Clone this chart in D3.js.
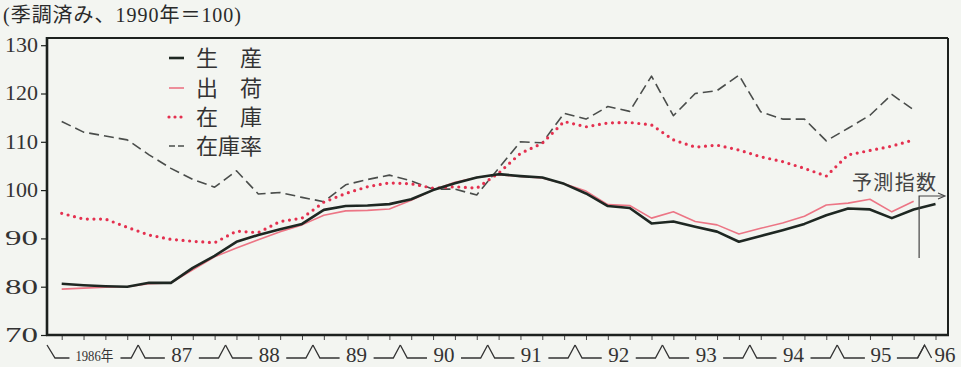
<!DOCTYPE html>
<html><head><meta charset="utf-8">
<script src="https://cdn.jsdelivr.net/npm/d3@7"></script>
<style>
html,body{margin:0;padding:0;background:#f3f5f1;}
svg{display:block;}
</style></head>
<body>
<svg id="chart" width="961" height="367"></svg>
<script>
// ---- data (quarterly, 1986Q1 .. ) ----
const yearLabels = ["1986年","87","88","89","90","91","92","93","94","95","96"];
const yTicks = [70, 80, 90, 100, 110, 120, 130];
const seriesNames = ["生　産", "出　荷", "在　庫", "在庫率"];
const production = [80.6,80.3,80.1,80.0,80.8,80.8,83.9,86.4,89.3,90.7,91.9,93.0,95.9,96.7,96.8,97.1,98.1,100.0,101.4,102.6,103.3,102.9,102.6,101.3,99.3,96.7,96.3,93.1,93.5,92.4,91.4,89.3,90.5,91.7,93.0,94.8,96.2,96.0,94.2,96.0,97.1];
const shipments = [79.5,79.7,79.9,80.0,80.6,80.8,83.5,86.2,88.0,89.7,91.4,92.8,94.8,95.7,95.8,96.1,97.9,100.0,101.6,102.6,103.2,102.8,102.5,101.3,99.8,97.0,96.8,94.2,95.5,93.5,92.8,90.9,92.1,93.2,94.6,96.9,97.3,98.1,95.5,97.7];
const inventory = [95.2,94.0,94.0,92.3,90.7,89.8,89.4,89.1,91.5,91.2,93.5,94.2,97.5,99.3,100.7,101.5,101.3,100.4,100.7,100.4,103.5,107.6,109.7,114.2,113.1,113.9,114.0,113.5,110.4,108.9,109.3,108.3,106.9,105.9,104.5,102.9,107.3,108.2,109.1,110.4];
const inventoryRatio = [114.2,112.0,111.2,110.4,107.3,104.5,102.2,100.6,104.0,99.2,99.5,98.5,97.6,101.1,102.2,103.1,101.9,100.2,100.2,99.0,104.5,110.0,109.8,115.9,114.7,117.3,116.3,123.6,115.4,120.0,120.6,123.8,116.2,114.7,114.7,110.2,112.8,115.5,119.8,116.6];
const forecastLabel = "予測指数";
const unitLabel = "(季調済み、1990年＝100)";

// ---- layout ----
const svg = d3.select("#chart");
const L = 47, R = 948, T = 38, B = 335;
const nQ = 41;
const x = d3.scaleLinear().domain([0, nQ - 1]).range([61.7, 935.5]);
const y = d3.scaleLinear().domain([70, 130]).range([B, 45.2]);
const serif = "'Liberation Serif','Noto Sans CJK JP',serif";
const cjk = "'Noto Sans CJK JP','Liberation Serif',sans-serif";
const ink = "#1c211e";

svg.append("rect").attr("width",961).attr("height",367).attr("fill","#f3f5f1");

// title
svg.append("text").attr("x",3).attr("y",22).attr("font-family",serif)
  .attr("font-size",20).attr("fill","#2a2a2a").attr("textLength",238)
  .text(unitLabel);

// frame
svg.append("line").attr("x1",L).attr("x2",R).attr("y1",T).attr("y2",T).attr("stroke",ink).attr("stroke-width",2);
svg.append("line").attr("x1",R).attr("x2",R).attr("y1",T).attr("y2",B).attr("stroke",ink).attr("stroke-width",2);

// y axis
const yAxis = d3.axisLeft(y).tickValues(yTicks).tickSize(6).tickPadding(3).tickFormat(d3.format("d"));
const gy = svg.append("g").attr("transform",`translate(${L},0)`).call(yAxis);
gy.select(".domain").remove();
gy.selectAll(".tick line").attr("stroke",ink).attr("stroke-width",1.2);
gy.selectAll(".tick text").attr("font-family",serif).attr("font-size",20).attr("fill","#333")
  .attr("textLength",33).attr("lengthAdjust","spacingAndGlyphs");
svg.append("line").attr("x1",L).attr("x2",L).attr("y1",T-1).attr("y2",B+1).attr("stroke",ink).attr("stroke-width",2.6);

// x axis ticks
const xAxis = d3.axisBottom(x).tickValues(d3.range(nQ)).tickSize(5).tickFormat("");
const gx = svg.append("g").attr("transform",`translate(0,${B})`).call(xAxis);
gx.select(".domain").remove();
gx.selectAll(".tick line").attr("stroke","#444").attr("stroke-width",1);
svg.append("line").attr("x1",L-1).attr("x2",R+1).attr("y1",B).attr("y2",B).attr("stroke",ink).attr("stroke-width",2.6);

// year brackets
const base = 358, peakY = 345, ph = 7;
const gyear = svg.append("g");
const halfW = [22, 13, 13, 13, 13, 13, 13, 13, 13, 12, 12];
yearLabels.forEach((lab, k) => {
  const cx = x(4*k + 1.5);
  const b0 = x(4*k - 0.5), b1 = x(4*k + 3.5);
  if (k === yearLabels.length - 1) {
    gyear.append("path").attr("d",`M${b0-ph},${base}L${b0},${peakY}L${b0+ph},${base}`)
      .attr("fill","none").attr("stroke","#333").attr("stroke-width",1.3);
    gyear.append("text").attr("x",b0+ph+3).attr("y",base+4).attr("font-family",serif)
      .attr("font-size",21).attr("fill","#333").text(lab);
    return;
  }
  const t = gyear.append("text").attr("x",cx).attr("y",base+ (k===0?3:4)).attr("text-anchor","middle")
    .attr("font-family",serif).attr("font-size",k===0?15:21).attr("fill","#333").text(lab);
  if (k===0) t.attr("textLength",38).attr("lengthAdjust","spacingAndGlyphs");
  const hw = halfW[k];
  let d;
  if (k === 0) d = `M${L},${peakY}L${L+8},${base}L${cx-hw-3},${base}`;
  else d = `M${b0},${peakY}L${b0+ph},${base}L${cx-hw-4},${base}`;
  d += `M${cx+hw+4},${base}L${b1-ph},${base}L${b1},${peakY}`;
  gyear.append("path").attr("d",d).attr("fill","none").attr("stroke","#333").attr("stroke-width",1.3);
});

// lines
const line = d3.line().x((d,i)=>x(i)).y(d=>y(d));
const styles = [
  {data: inventoryRatio, stroke:"#4a4d4b", width:1.6, dash:"10 5", cap:"butt"},
  {data: inventory, stroke:"#e4304f", width:3.2, dash:"0 6.6", cap:"round"},
  {data: shipments, stroke:"#ec7585", width:1.6, dash:null, cap:"butt"},
  {data: production, stroke:"#1e2722", width:2.6, dash:null, cap:"butt"}
];
styles.forEach(s => {
  svg.append("path").datum(s.data).attr("d",line).attr("fill","none")
    .attr("stroke",s.stroke).attr("stroke-width",s.width)
    .attr("stroke-dasharray",s.dash).attr("stroke-linecap",s.cap).attr("stroke-linejoin","round");
});

// legend
const legY = [58, 88, 117, 146];
const legStyles = [styles[3], styles[2], styles[1], styles[0]];
const legend = svg.append("g");
seriesNames.forEach((n, i) => {
  const s = legStyles[i];
  legend.append("line").attr("x1",169).attr("x2",184).attr("y1",legY[i]).attr("y2",legY[i])
    .attr("stroke",s.stroke).attr("stroke-width",s.width)
    .attr("stroke-dasharray", i===2 ? "0 6" : (i===3 ? "6 3" : null))
    .attr("stroke-linecap", s.cap);
  legend.append("text").attr("x",196).attr("y",legY[i]+8).attr("font-family",cjk)
    .attr("font-size",22).attr("fill","#333").text(n);
});

// forecast marker
const fx = x(39.25);
svg.append("text").attr("x",852).attr("y",190).attr("font-family",cjk).attr("font-size",20)
  .attr("fill","#444").attr("textLength",84).text(forecastLabel);
svg.append("path").attr("d",`M${fx},258L${fx},196L944,196`).attr("fill","none")
  .attr("stroke","#444").attr("stroke-width",1.2);
svg.append("path").attr("d","M938,193L945,196L938,199").attr("fill","none")
  .attr("stroke","#444").attr("stroke-width",1.1);
</script>
</body></html>
